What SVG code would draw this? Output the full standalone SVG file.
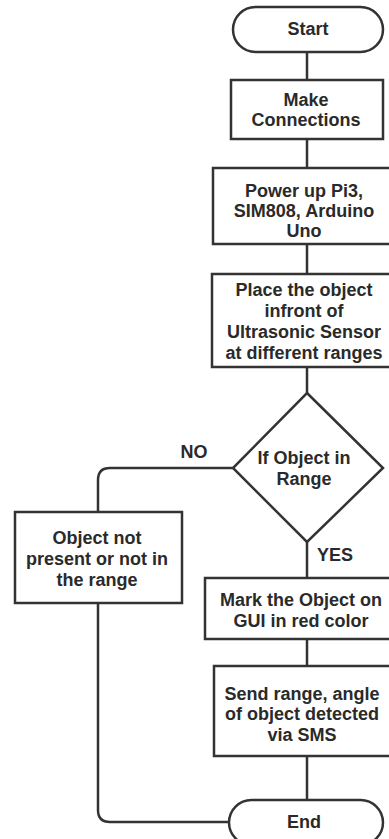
<svg xmlns="http://www.w3.org/2000/svg" width="389" height="839" viewBox="0 0 389 839">
<style>
.s{fill:#fff;stroke:#333;stroke-width:2.5}
.c{fill:none;stroke:#333;stroke-width:2.5}
.t{font-family:"Liberation Sans",Arial,sans-serif;font-weight:bold;font-size:18px;fill:#2a2a2a;text-anchor:middle}
</style>
<rect width="389" height="839" fill="#fff"/>
<g id="connectors">
<path class="c" d="M307 52V80M307 139V168M307 244V274M307 367V393M307 542V578M307 639V666M307 756V800"/>
<path class="c" d="M233 468H110Q98 468 98 480V512"/>
<path class="c" d="M98 603V810Q98 822 110 822H229"/>
<text class="t" x="194" y="458">NO</text>
<text class="t" x="335" y="561">YES</text>
</g>
<g id="start">
<rect class="s" x="233" y="7" width="150" height="45" rx="22.5"/>
<text class="t" x="308" y="35">Start</text>
</g>
<g id="make">
<rect class="s" x="231" y="80" width="152" height="59"/>
<text class="t" x="306" y="106">Make</text>
<text class="t" x="306" y="126">Connections</text>
</g>
<g id="power">
<rect class="s" x="213" y="168" width="179" height="76"/>
<text class="t" x="304" y="197">Power up Pi3,</text>
<text class="t" x="304" y="217">SIM808, Arduino</text>
<text class="t" x="304" y="237">Uno</text>
</g>
<g id="place">
<rect class="s" x="212" y="274" width="180" height="93"/>
<text class="t" x="304" y="296">Place the object</text>
<text class="t" x="304" y="317">infront of</text>
<text class="t" x="304" y="338">Ultrasonic Sensor</text>
<text class="t" x="304" y="359">at different ranges</text>
</g>
<g id="decision">
<polygon class="s" points="307,393 383,468 307,542 233,468"/>
<text class="t" x="304" y="464">If Object in</text>
<text class="t" x="304" y="485">Range</text>
</g>
<g id="notpresent">
<rect class="s" x="15" y="512" width="167" height="91"/>
<text class="t" x="97" y="544">Object not</text>
<text class="t" x="97" y="565">present or not in</text>
<text class="t" x="97" y="586">the range</text>
</g>
<g id="mark">
<rect class="s" x="205" y="578" width="187" height="61"/>
<text class="t" x="301" y="606">Mark the Object on</text>
<text class="t" x="301" y="627">GUI in red color</text>
</g>
<g id="send">
<rect class="s" x="214" y="666" width="178" height="90"/>
<text class="t" x="302" y="700">Send range, angle</text>
<text class="t" x="302" y="720">of object detected</text>
<text class="t" x="302" y="741">via SMS</text>
</g>
<g id="end">
<rect class="s" x="229" y="800" width="154" height="45" rx="22.5"/>
<text class="t" x="304" y="828">End</text>
</g>
</svg>
